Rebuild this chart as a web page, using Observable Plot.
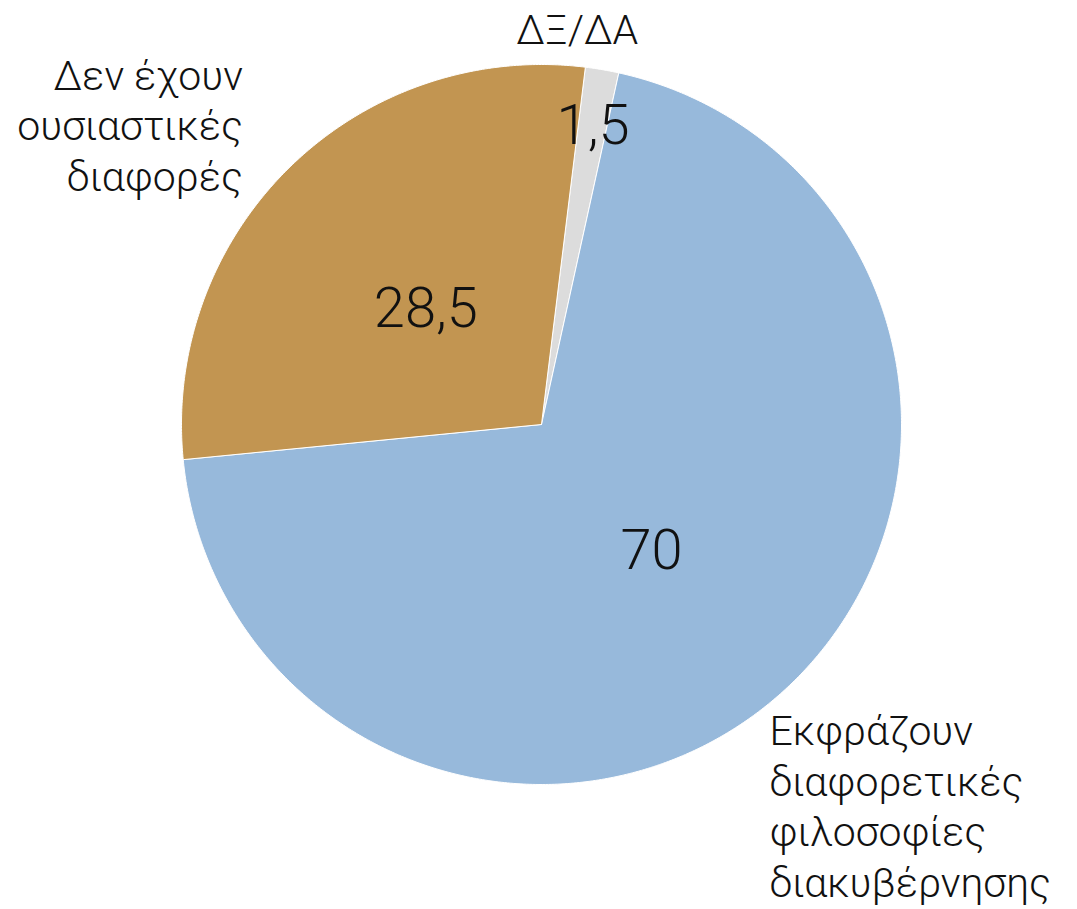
<!DOCTYPE html>
<html>
<head>
<meta charset="utf-8">
<script src="https://cdn.jsdelivr.net/npm/d3@7"></script>
<script src="https://cdn.jsdelivr.net/npm/@observablehq/plot@0.6"></script>
<style>
  html, body { margin: 0; padding: 0; background: #ffffff; }
  #chart svg { display: block; }
</style>
</head>
<body>
<div id="chart"></div>
<script>
// ---- data ----
const categories = ["ΔΞ/ΔΑ", "Εκφράζουν διαφορετικές φιλοσοφίες διακυβέρνησης", "Δεν έχουν ουσιαστικές διαφορές"];
const values = [1.5, 70, 28.5];
const valueLabels = ["1,5", "70", "28,5"];
const outerLabels = ["ΔΞ/ΔΑ", "Εκφράζουν\nδιαφορετικές\nφιλοσοφίες\nδιακυβέρνησης", "Δεν έχουν\nουσιαστικές\nδιαφορές"];
const colors = ["#dcdcdc", "#97b9db", "#c29551"];

// ---- layout helpers ----
const W = 1077, H = 909;
const cx = 541, cy = 424, R = 360;
const start = 7 * Math.PI / 180;

const pie = d3.pie().sort(null).value(d => d.value).startAngle(start).endAngle(start + 2 * Math.PI);
const slices = pie(categories.map((c, i) => ({category: c, value: values[i], label: valueLabels[i], outer: outerLabels[i], color: colors[i]})));

// polygon points for each slice (centre -> arc -> centre), in unit coordinates
const pts = [];
for (const s of slices) {
  const n = Math.max(4, Math.ceil((s.endAngle - s.startAngle) / (Math.PI / 360)));
  pts.push({cat: s.data.category, x: 0, y: 0});
  for (let k = 0; k <= n; k++) {
    const a = s.startAngle + (s.endAngle - s.startAngle) * k / n;
    pts.push({cat: s.data.category, x: Math.sin(a), y: Math.cos(a)});
  }
  pts.push({cat: s.data.category, x: 0, y: 0});
}

const mid = s => (s.startAngle + s.endAngle) / 2;
const valuePos = slices.map(s => {
  const r = s.data.value < 5 ? 0.85 : 0.46;
  return {text: s.data.label, x: r * Math.sin(mid(s)), y: r * Math.cos(mid(s))};
});
// outer labels placed outside the pie by mid-angle
const outerOpts = [
  {dx: -31, dy: -6, textAnchor: "middle", lineAnchor: "middle", r: 1.1},
  {dx: -35, dy: -11, textAnchor: "start", lineAnchor: "top", r: 1.1},
  {dx: -22, dy: -17, textAnchor: "end", lineAnchor: "middle", r: 1.1}
];
const outerPos = slices.map((s, i) => {
  const r = outerOpts[i].r;
  return {text: s.data.outer, x: r * Math.sin(mid(s)), y: r * Math.cos(mid(s)), i};
});

const font = "Roboto, 'Helvetica Neue', 'Liberation Sans', sans-serif";

const marks = [
  Plot.line(pts, {x: "x", y: "y", z: "cat", fill: "cat", stroke: "white", strokeWidth: 1, curve: "linear"})
];
outerPos.forEach((d, i) => {
  marks.push(Plot.text([d], {x: "x", y: "y", text: "text", fontSize: 41, lineHeight: 1.23,
    fill: "#111", dx: outerOpts[i].dx, dy: outerOpts[i].dy,
    textAnchor: outerOpts[i].textAnchor, lineAnchor: outerOpts[i].lineAnchor, fontWeight: 300}));
});
marks.push(Plot.text(valuePos, {x: "x", y: "y", text: "text", fontSize: 56, fill: "#111", fontWeight: 300, dy: 3}));

const chart = Plot.plot({
  width: W, height: H,
  margin: 0,
  style: {fontFamily: font, background: "white"},
  x: {domain: [-1, 1], range: [cx - R, cx + R], axis: null},
  y: {domain: [-1, 1], range: [cy + R, cy - R], axis: null},
  color: {domain: categories, range: colors},
  marks
});
document.getElementById("chart").appendChild(chart);
</script>
</body>
</html>
